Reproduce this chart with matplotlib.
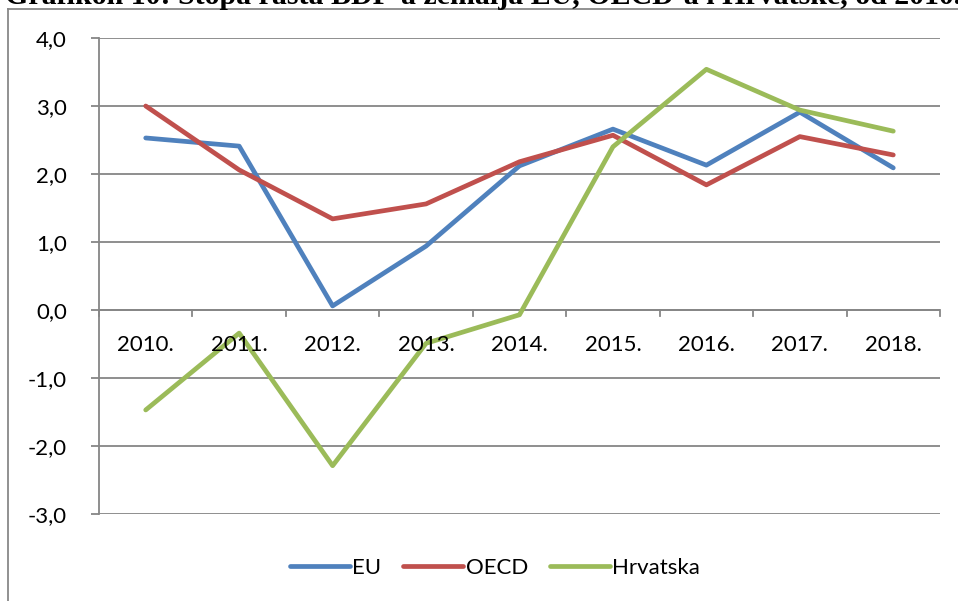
import matplotlib
matplotlib.use("Agg")
import matplotlib.pyplot as plt
from matplotlib.lines import Line2D

# stopa rasta BDP-a (%), ocitano s grafikona
godine = ["2010.", "2011.", "2012.", "2013.", "2014.", "2015.", "2016.", "2017.", "2018."]
eu = [2.53, 2.41, 0.06, 0.94, 2.12, 2.66, 2.13, 2.91, 2.09]
oecd = [3.00, 2.06, 1.34, 1.56, 2.18, 2.57, 1.84, 2.55, 2.28]
hrvatska = [-1.47, -0.34, -2.29, -0.49, -0.07, 2.40, 3.54, 2.94, 2.63]

plt.rcParams['font.family'] = ['Lato', 'DejaVu Sans']

fig = plt.figure(figsize=(9.58, 6.01), dpi=100)
ax = fig.add_axes([99 / 958, 1 - 514 / 601, 841 / 958, 476 / 601])

x = list(range(len(godine)))
ax.plot(x, eu, color="#4F81BD", lw=3.4, label="EU", solid_capstyle="round")
ax.plot(x, oecd, color="#C0504D", lw=3.4, label="OECD", solid_capstyle="round")
ax.plot(x, hrvatska, color="#9BBB59", lw=3.4, label="Hrvatska", solid_capstyle="round")

ax.set_xlim(-0.5, len(godine) - 0.5)
ax.set_ylim(-3, 4)
ax.set_yticks(range(-3, 5))
ax.set_yticklabels([f"{v},0" for v in range(-3, 5)], fontsize=16)
ax.yaxis.grid(True, color="#868686", lw=1.3)
ax.set_axisbelow(True)
ax.tick_params(axis="y", length=6, color="#868686", width=1.3, pad=17)

for s in ["top", "right", "bottom"]:
    ax.spines[s].set_visible(False)
ax.spines["left"].set_color("#868686")
ax.spines["left"].set_linewidth(1.3)

# x os na nuli s oznakama izmedu kategorija
ax.axhline(0, color="#868686", lw=1.3, zorder=1)
ax.set_xticks([])
for b in range(len(godine) + 1):
    ax.plot([b - 0.5, b - 0.5], [0, -0.09], color="#868686", lw=1.3, clip_on=False, zorder=1)
for i, g in enumerate(godine):
    ax.text(i, -0.52, g, ha="center", va="center", fontsize=16)

ax.legend(loc="center", bbox_to_anchor=(495 / 958, 1 - 568 / 601),
          bbox_transform=fig.transFigure, ncol=3, frameon=False, fontsize=16,
          handlelength=2.7, handletextpad=0.1, columnspacing=1.0)

# okvir grafikona i odrezani naslov (u izvorniku je odrezan gornji dio)
fig.add_artist(Line2D([8 / 958, 8 / 958], [0, 1 - 9 / 601], color="#888888", lw=1.3))
fig.add_artist(Line2D([8 / 958, 1], [1 - 9 / 601, 1 - 9 / 601], color="#888888", lw=1.3))
fig.text(5 / 958, 1 - 4 / 601, "Grafikon 10: Stopa rasta BDP-a zemalja EU, OECD-a i Hrvatske, od 2010.",
         family="Liberation Serif", fontweight="bold", fontsize=21.5, va="baseline", ha="left")

fig.savefig("out.png", dpi=100)
